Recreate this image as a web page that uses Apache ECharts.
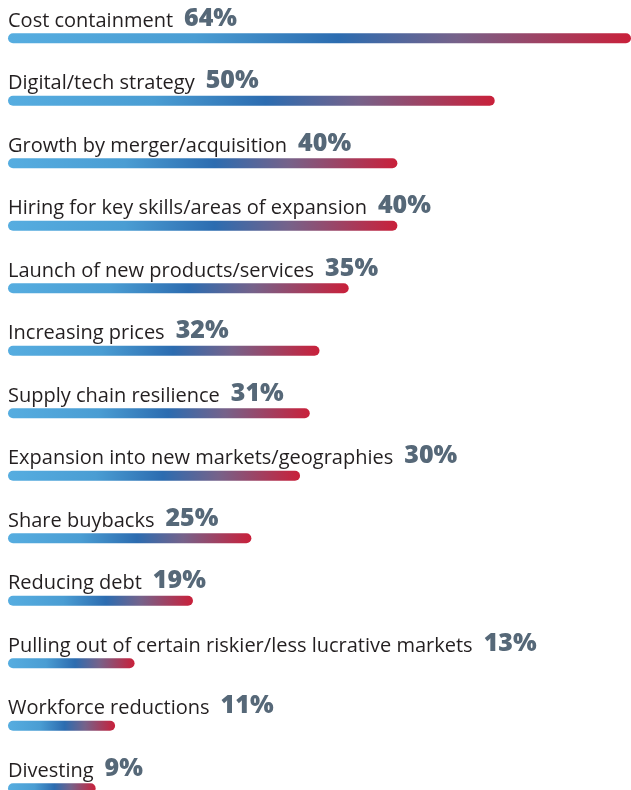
<!DOCTYPE html>
<html>
<head>
<meta charset="utf-8">
<script src="https://cdn.jsdelivr.net/npm/echarts@6/dist/echarts.min.js"></script>
<style>
  html, body { margin: 0; padding: 0; background: #ffffff; }
  #chart { width: 631px; height: 790px; }
</style>
</head>
<body>
<div id="chart"></div>
<script>
// Business priorities, share of respondents (%)
const categories = [
  'Cost containment',
  'Digital/tech strategy',
  'Growth by merger/acquisition',
  'Hiring for key skills/areas of expansion',
  'Launch of new products/services',
  'Increasing prices',
  'Supply chain resilience',
  'Expansion into new markets/geographies',
  'Share buybacks',
  'Reducing debt',
  'Pulling out of certain riskier/less lucrative markets',
  'Workforce reductions',
  'Divesting'
];
const values = [64, 50, 40, 40, 35, 32, 31, 30, 25, 19, 13, 11, 9];

const barGradient = {
  type: 'linear', x: 0, y: 0, x2: 1, y2: 0,
  colorStops: [
    { offset: 0, color: '#56ade0' },
    { offset: 0.3, color: '#4a9dd3' },
    { offset: 0.53, color: '#2c6cb0' },
    { offset: 0.72, color: '#76628a' },
    { offset: 1, color: '#c9203a' }
  ]
};

const chart = echarts.init(document.getElementById('chart'), null, { renderer: 'canvas' });
chart.setOption({
  animation: false,
  // the last row runs past the lower edge of the canvas
  grid: { left: 8, right: 0, top: 7, bottom: -29.5, containLabel: false, outerBoundsMode: 'none' },
  xAxis: { type: 'value', min: 0, max: 64, show: false },
  yAxis: {
    type: 'category', data: categories, inverse: true, show: false
  },
  series: [{
    type: 'bar',
    data: values,
    barWidth: 10,
    itemStyle: { color: barGradient, borderRadius: 5 },
    label: {
      show: true,
      position: [0, -15],
      align: 'left',
      verticalAlign: 'middle',
      formatter: p => '{n|' + p.name + '}{v|' + p.value + '%}',
      rich: {
        n: { fontFamily: 'Open Sans', fontSize: 20, color: '#231f20', verticalAlign: 'bottom', lineHeight: 26 },
        v: { fontFamily: 'Open Sans', fontSize: 25, fontWeight: 800, color: '#566878', verticalAlign: 'bottom', lineHeight: 26, padding: [0, 0, 0, 11] }
      }
    }
  }]
});
</script>
</body>
</html>
